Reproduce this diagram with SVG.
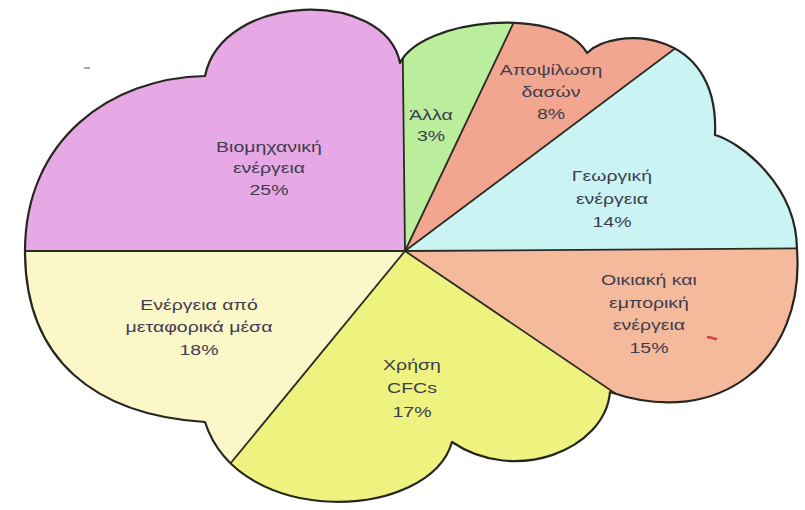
<svg xmlns="http://www.w3.org/2000/svg" width="805" height="510" viewBox="0 0 805 510">
<style>
.lbl{font-family:"Liberation Sans",Arial,sans-serif;font-size:15px;fill:#3d3d4e;text-anchor:middle}
.div{stroke:#2b2b22;stroke-width:1.8;fill:none}
.out{stroke:#262620;stroke-width:2.2;fill:none;stroke-linejoin:round}
</style>
<defs>
<path id="cloudShape" d="M25,251 C25,140 110,78 205,76 C222,-8 385,-12 400,63 C422,18 560,5 587,53 C612,27 720,25 715,135 C740,142 797,185 797,250 C805,360 720,430 610,392 C605,450 515,485 452,442 C430,520 240,530 205,422 C95,415 25,360 25,251 Z"/>
<clipPath id="cloud"><use href="#cloudShape"/></clipPath>
</defs>
<rect width="805" height="510" fill="#ffffff"/>
<g clip-path="url(#cloud)">
<g id="industry">
<polygon points="405,251 -100,251 -100,-100 401,-100" fill="#e7a9e6"/>
</g>
<g id="other">
<polygon points="405,251 401,-100 572,-100" fill="#bbee9c"/>
</g>
<g id="deforestation">
<polygon points="405,251 572,-100 873,-100" fill="#f2a690"/>
</g>
<g id="agriculture">
<polygon points="405,251 873,-100 1000,-100 1000,247" fill="#caf4f3"/>
</g>
<g id="residential">
<polygon points="405,251 1000,247 1000,654" fill="#f5b99b"/>
</g>
<g id="cfcs">
<polygon points="405,251 1000,654 1000,700 36,700" fill="#eef27e"/>
</g>
<g id="transport">
<polygon points="405,251 36,700 -100,700 -100,251" fill="#fcf7c9"/>
</g>
<g id="connectors">
<line class="div" x1="405" y1="251" x2="-100" y2="251"/>
<line class="div" x1="405" y1="251" x2="401" y2="-100"/>
<line class="div" x1="405" y1="251" x2="572" y2="-100"/>
<line class="div" x1="405" y1="251" x2="873" y2="-100"/>
<line class="div" x1="405" y1="251" x2="1000" y2="247"/>
<line class="div" x1="405" y1="251" x2="1000" y2="654"/>
<line class="div" x1="405" y1="251" x2="36" y2="700"/>
</g>
</g>
<g id="outline">
<use href="#cloudShape" class="out"/>
</g>
<g id="labels">
<text class="lbl" transform="translate(269 0) scale(1.3 1)"><tspan x="0" y="152">Βιομηχανική</tspan><tspan x="0" y="173">ενέργεια</tspan><tspan x="0" y="195">25%</tspan></text>
<text class="lbl" transform="translate(431 0) scale(1.3 1)"><tspan x="0" y="120">Άλλα</tspan><tspan x="0" y="141">3%</tspan></text>
<text class="lbl" transform="translate(551 0) scale(1.3 1)"><tspan x="0" y="75">Αποψίλωση</tspan><tspan x="0" y="97">δασών</tspan><tspan x="0" y="119">8%</tspan></text>
<text class="lbl" transform="translate(612 0) scale(1.3 1)"><tspan x="0" y="181">Γεωργική</tspan><tspan x="0" y="204">ενέργεια</tspan><tspan x="0" y="227">14%</tspan></text>
<text class="lbl" transform="translate(649 0) scale(1.3 1)"><tspan x="0" y="285">Οικιακή και</tspan><tspan x="0" y="308">εμπορική</tspan><tspan x="0" y="330">ενέργεια</tspan><tspan x="0" y="353">15%</tspan></text>
<text class="lbl" transform="translate(412 0) scale(1.3 1)"><tspan x="0" y="370">Χρήση</tspan><tspan x="0" y="393">CFCs</tspan><tspan x="0" y="417">17%</tspan></text>
<text class="lbl" transform="translate(199 0) scale(1.3 1)"><tspan x="0" y="310">Ενέργεια από</tspan><tspan x="0" y="332">μεταφορικά μέσα</tspan><tspan x="0" y="355">18%</tspan></text>
</g>
<line x1="708" y1="337" x2="716" y2="339" stroke="#d8404a" stroke-width="2.5" stroke-linecap="round"/>
<line x1="84" y1="68" x2="90" y2="68" stroke="#8a8a8a" stroke-width="1.5"/>
</svg>
